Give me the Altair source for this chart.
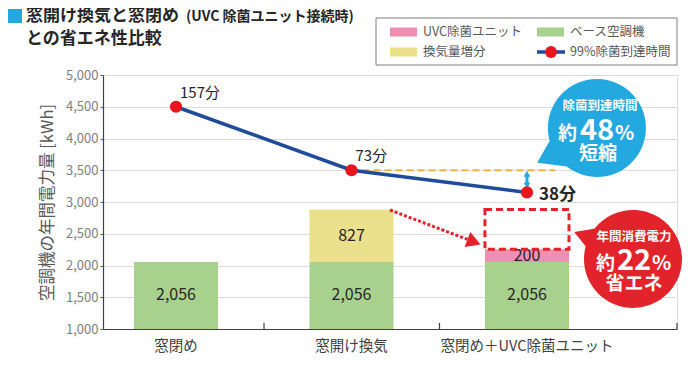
import altair as alt
import pandas as pd

# ---------------- data ----------------
categories = ["窓閉め", "窓開け換気", "窓閉め＋UVC除菌ユニット"]
base_kwh = [2056, 2056, 2056]
vent_kwh = [0, 827, 0]
uvc_kwh = [0, 0, 200]
reach_kwh = [4500, 3500, 3150]
reach_labels = ["157分", "73分", "38分"]
y_ticks = [1000, 1500, 2000, 2500, 3000, 3500, 4000, 4500, 5000]
legend_labels = ["UVC除菌ユニット", "ベース空調機", "換気量増分", "99%除菌到達時間"]

FONT = "Noto Sans CJK JP"
C_BASE = "#a9d18e"
C_VENT = "#ebe08b"
C_UVC = "#ef8fb2"
C_LINE = "#1f4b9b"
C_DOT = "#e8141e"
C_ORANGE = "#f3b23c"
C_SKY = "#24a8e0"
C_RED = "#e3232b"
C_TXT = "#262626"
Y_MIN = y_ticks[0]

rows = []
for c, b, v, u in zip(categories, base_kwh, vent_kwh, uvc_kwh):
    rows.append(dict(cat=c, seg="base", start=0, end=b, label=f"{b:,}", ly=(max(Y_MIN, 0) + b) / 2))
    if v:
        rows.append(dict(cat=c, seg="vent", start=b, end=b + v, label=f"{v:,}", ly=b + v / 2))
    if u:
        rows.append(dict(cat=c, seg="uvc", start=b, end=b + u, label=f"{u:,}", ly=b + u / 2))
bars_df = pd.DataFrame(rows)

line_df = pd.DataFrame({"cat": categories, "kwh": reach_kwh, "label": reach_labels})
rect_df = pd.DataFrame({"cat": [categories[2]],
                        "top": [base_kwh[1] + vent_kwh[1]],
                        "bottom": [base_kwh[2] + uvc_kwh[2]]})
one = pd.DataFrame({"k": [0]})

# ---------------- scales / axes ----------------
xscale = alt.Scale(domain=categories, paddingInner=0.521, paddingOuter=0.396, align=0.223)
xaxis = alt.Axis(title=None, labelAngle=0, labelFont=FONT, labelFontSize=14.5, labelColor="#404040",
                 ticks=False, domainColor="#404040", domainWidth=1.2, labelPadding=10, grid=False)
yscale = alt.Scale(domain=[1000, 5000], nice=False)
yaxis = alt.Axis(values=y_ticks, format=",.0f", labelFont=FONT, labelFontSize=13, labelColor="#7f7f7f",
                 tickSize=3, tickColor="#595959", domainColor="#404040", domainWidth=1.2,
                 grid=True, gridColor="#dcdcdc", labelPadding=2,
                 title="空調機の年間電力量 [kWh]", titleFont=FONT, titleFontSize=16.5,
                 titleColor="#595959", titleFontWeight="normal", titlePadding=10)


def X(field="cat"):
    return alt.X(f"{field}:N", scale=xscale, axis=xaxis, sort=categories)


def Y(field):
    return alt.Y(f"{field}:Q", scale=yscale, axis=yaxis)


# ---------------- layers ----------------
bars = alt.Chart(bars_df).mark_bar(clip=True).encode(
    x=X(), y=Y("start"), y2="end",
    color=alt.Color("seg:N", scale=alt.Scale(domain=["base", "vent", "uvc"],
                                             range=[C_BASE, C_VENT, C_UVC]), legend=None))
bar_labels = alt.Chart(bars_df).mark_text(font=FONT, fontSize=16, color=C_TXT).encode(
    x=X(), y=Y("ly"), text="label:N")

# x-axis interval ticks (drawn upward like the reference)
tick_df = pd.DataFrame({"cat": categories[:2]})
xticks = alt.Chart(tick_df).mark_rule(color="#404040", strokeWidth=1.2, xOffset=88).encode(
    x=X(), y=alt.value(254), y2=alt.value(248))
xtick_end = alt.Chart(one).mark_rule(color="#404040", strokeWidth=1.2).encode(
    x=alt.value(574), y=alt.value(254), y2=alt.value(248))

# dashed orange reference line from 73分 point
orange = alt.Chart(line_df.iloc[[1]]).mark_rule(color=C_ORANGE, strokeDash=[7, 4], strokeWidth=2).encode(
    x=X(), x2=alt.value(452), y=Y("kwh"))

# red dashed box over the UVC bar
dash_box = alt.Chart(rect_df).mark_bar(fillOpacity=0, stroke=C_RED, strokeWidth=3,
                                       strokeDash=[7, 4]).encode(x=X(), y=Y("top"), y2="bottom")

# red dotted arrow
red_arrow = alt.Chart(one).mark_rule(color=C_RED, strokeDash=[3, 2], strokeWidth=3).encode(
    x=alt.value(287), x2=alt.value(366), y=alt.value(135), y2=alt.value(165))
red_head = alt.Chart(one).mark_point(shape="triangle-right", angle=21, size=260, filled=True,
                                     color=C_RED, opacity=1).encode(
    x=alt.value(371), y=alt.value(167))

# double-headed sky arrow between the 73分 and 38分 levels
arr_df = pd.DataFrame({"cat": [categories[2]],
                       "top": [reach_kwh[1] - 55], "bottom": [reach_kwh[2] + 110]})
sky_rule = alt.Chart(arr_df).mark_rule(color=C_SKY, strokeWidth=3).encode(
    x=X(), y=Y("top"), y2="bottom")
sky_up = alt.Chart(arr_df).mark_point(shape="triangle-up", size=45, filled=True, color=C_SKY,
                                      opacity=1).encode(x=X(), y=Y("top"))
sky_down = alt.Chart(arr_df).mark_point(shape="triangle-down", size=45, filled=True, color=C_SKY,
                                        opacity=1).encode(x=X(), y=Y("bottom"))

# line + points
line = alt.Chart(line_df).mark_line(color=C_LINE, strokeWidth=3.5).encode(x=X(), y=Y("kwh"))
points = alt.Chart(line_df).mark_circle(size=150, color=C_DOT, opacity=1).encode(x=X(), y=Y("kwh"))
pt_labels = alt.Chart(line_df.iloc[:2]).mark_text(font=FONT, fontSize=15, color=C_TXT, align="left",
                                                  dx=4, dy=-14).encode(x=X(), y=Y("kwh"), text="label:N")
pt_label3 = alt.Chart(line_df.iloc[[2]]).mark_text(font=FONT, fontSize=17, fontWeight="bold",
                                                   color=C_TXT, align="left", dx=12, dy=3).encode(
    x=X(), y=Y("kwh"), text="label:N")

# speech bubbles (circle + tail as one custom symbol)
BLUE_PATH = "M -0.966,0.259 A 1,1 0 1,1 -0.616,0.788 L -1.22,0.71 Z"
RED_PATH = "M -0.788,-0.616 A 1,1 0 1,1 -0.966,-0.259 L -1.2,-0.55 Z"
blue_bubble = alt.Chart(one).mark_point(shape=BLUE_PATH, size=9604, filled=True, color=C_SKY,
                                        opacity=1, strokeWidth=0).encode(x=alt.value(494), y=alt.value(53))
red_bubble = alt.Chart(one).mark_point(shape=RED_PATH, size=9604, filled=True, color=C_RED,
                                       opacity=1, strokeWidth=0).encode(x=alt.value(530), y=alt.value(184))


def txt(s, x, y, size, align="center", weight="bold", color="white", baseline="middle"):
    return alt.Chart(one).mark_text(text=s, font=FONT, fontSize=size, fontWeight=weight, color=color,
                                    align=align, baseline=baseline).encode(x=alt.value(x), y=alt.value(y))


bubble_texts = [
    txt("除菌到達時間", 497, 31, 12.5),
    txt("約", 474, 65, 19, align="right", baseline="alphabetic"),
    txt("48", 494, 65, 29, align="center", baseline="alphabetic"),
    txt("%", 512, 65, 20, align="left", baseline="alphabetic"),
    txt("短縮", 495, 79, 19),
    txt("年間消費電力", 531, 162, 12.5),
    txt("約", 512, 195, 19, align="right", baseline="alphabetic"),
    txt("22", 531, 195, 29, align="center", baseline="alphabetic"),
    txt("%", 549, 195, 20, align="left", baseline="alphabetic"),
    txt("省エネ", 531, 209, 19),
]

# legend (manual, boxed, 2 columns)
legend_box = alt.Chart(one).mark_rect(fill="white", stroke="#7f7f7f", strokeWidth=1).encode(
    x=alt.value(273), x2=alt.value(574), y=alt.value(-57), y2=alt.value(-10))
sw_colors = [C_UVC, C_BASE, C_VENT]
sw_pos = [(287, -43), (434, -43), (287, -23)]
legend_layers = [legend_box]
for col, (lx, ly) in zip(sw_colors, sw_pos):
    legend_layers.append(alt.Chart(one).mark_rect(color=col).encode(
        x=alt.value(lx), x2=alt.value(lx + 27), y=alt.value(ly - 4.5), y2=alt.value(ly + 4.5)))
legend_layers.append(alt.Chart(one).mark_rule(color=C_LINE, strokeWidth=3.5).encode(
    x=alt.value(434), x2=alt.value(462), y=alt.value(-23)))
legend_layers.append(alt.Chart(one).mark_circle(size=140, color=C_DOT, opacity=1).encode(
    x=alt.value(448), y=alt.value(-23)))
for s, (lx, ly) in zip(legend_labels, [(320, -43), (467, -43), (320, -23), (467, -23)]):
    legend_layers.append(txt(s, lx, ly, 12.5, align="left", weight="normal", color="#595959"))

# title
title_layers = [
    alt.Chart(one).mark_rect(color=C_SKY).encode(x=alt.value(-95), x2=alt.value(-81),
                                                 y=alt.value(-66), y2=alt.value(-52)),
    txt("窓開け換気と窓閉め", -77, -59, 17, align="left", color="#262626"),
    txt("(UVC 除菌ユニット接続時)", 83, -58, 14, align="left", color="#262626"),
    txt("との省エネ性比較", -77, -36, 17, align="left", color="#262626"),
]

chart = alt.layer(
    bars, bar_labels, xticks, xtick_end, dash_box, orange, red_arrow, red_head,
    line, sky_rule, sky_up, sky_down, points, pt_labels, pt_label3,
    blue_bubble, red_bubble, *bubble_texts, *legend_layers, *title_layers,
).properties(
    width=574, height=254,
    autosize=alt.AutoSizeParams(type="none"),
    padding={"left": 95, "top": 67, "right": 5, "bottom": 28},
).configure_view(stroke=None).configure(font=FONT)

chart.save("out.html", embed_options={"renderer": "svg", "actions": False})
